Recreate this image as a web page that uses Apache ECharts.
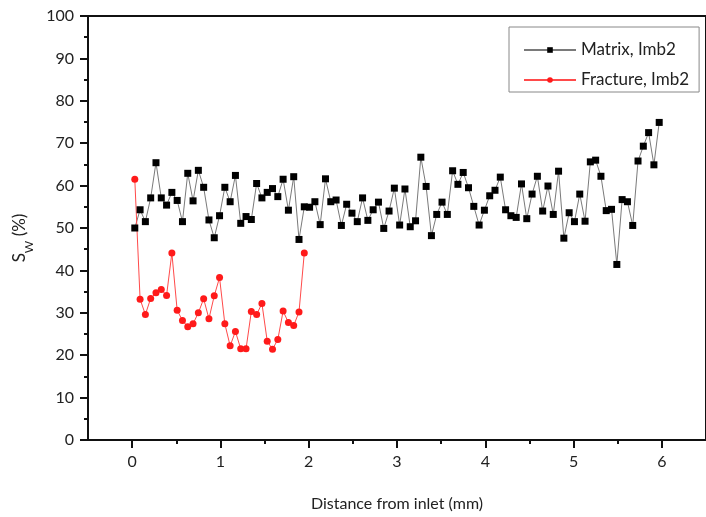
<!DOCTYPE html>
<html>
<head>
<meta charset="utf-8">
<script src="https://cdn.jsdelivr.net/npm/echarts@6/dist/echarts.min.js"></script>
<style>
html,body{margin:0;padding:0;background:#fff;}
#chart{width:706px;height:517px;}
</style>
</head>
<body>
<div id="chart"></div>
<script>
// Distance from inlet (mm)
var distance = [
  0.03,0.09,0.15,0.21,0.27,0.33,0.39,0.45,0.51,0.57,
  0.63,0.69,0.75,0.81,0.87,0.93,0.99,1.05,1.11,1.17,
  1.23,1.29,1.35,1.41,1.47,1.53,1.59,1.65,1.71,1.77,
  1.83,1.89,1.95,2.01,2.07,2.13,2.19,2.25,2.31,2.37,
  2.43,2.49,2.55,2.61,2.67,2.73,2.79,2.85,2.91,2.97,
  3.03,3.09,3.15,3.21,3.27,3.33,3.39,3.45,3.51,3.57,
  3.63,3.69,3.75,3.81,3.87,3.93,3.99,4.05,4.11,4.17,
  4.23,4.29,4.35,4.41,4.47,4.53,4.59,4.65,4.71,4.77,
  4.83,4.89,4.95,5.01,5.07,5.13,5.19,5.25,5.31,5.37,
  5.43,5.49,5.55,5.61,5.67,5.73,5.79,5.85,5.91,5.97
];
// Matrix, Imb2 Sw (%)
var matrix = [
  50, 54.3, 51.5, 57.1, 65.4, 57.1, 55.4, 58.4, 56.5, 51.5,
  62.9, 56.4, 63.6, 59.6, 51.9, 47.7, 52.9, 59.6, 56.2, 62.4,
  51.1, 52.7, 52, 60.5, 57.1, 58.4, 59.3, 57.4, 61.5, 54.2,
  62.1, 47.3, 55, 54.9, 56.2, 50.8, 61.6, 56.2, 56.6, 50.6,
  55.6, 53.5, 51.5, 57.1, 51.8, 54.3, 56.1, 49.9, 54, 59.4,
  50.7, 59.2, 50.3, 51.7, 66.7, 59.8, 48.2, 53.2, 56.1, 53.2,
  63.5, 60.3, 63.1, 59.5, 55.1, 50.7, 54.2, 57.6, 58.9, 62,
  54.3, 52.9, 52.5, 60.4, 52.2, 58, 62.2, 54, 59.9, 53.2,
  63.4, 47.6, 53.6, 51.5, 58, 51.6, 65.6, 66, 62.2, 54.1,
  54.4, 41.4, 56.7, 56.2, 50.6, 65.8, 69.3, 72.5, 64.9, 74.9
];
// Fracture, Imb2 Sw (%) (first 33 distances)
var fracture = [
  61.5, 33.2, 29.6, 33.4, 34.7, 35.5, 34.1, 44.1, 30.6, 28.2,
  26.7, 27.4, 30, 33.3, 28.6, 34, 38.3, 27.4, 22.2, 25.6,
  21.5, 21.5, 30.3, 29.6, 32.2, 23.3, 21.4, 23.7, 30.4, 27.7,
  27, 30.2, 44.1
];
var xMajorTicks = [0, 1, 2, 3, 4, 5, 6];
var xHalfTicks = [0.5, 1.5, 2.5, 3.5, 4.5, 5.5];
var seriesNames = ['Matrix, Imb2', 'Fracture, Imb2'];

var FONT = 'Lato';
var matrixData = matrix.map(function (v, i) { return [distance[i], v]; });
var fractureData = fracture.map(function (v, i) { return [distance[i], v]; });

var chart = echarts.init(document.getElementById('chart'), null, {renderer: 'canvas'});
chart.setOption({
  animation: false,
  backgroundColor: '#fff',
  textStyle: {fontFamily: FONT},
  grid: {
    left: 88, top: 16, width: 627, height: 426,
    show: true, borderColor: '#111', borderWidth: 2, backgroundColor: 'transparent'
  },
  xAxis: [{
    type: 'value', min: -0.5, max: 6.5, interval: 0.5,
    axisLine: {show: true, onZero: false, lineStyle: {color: '#111', width: 2}},
    axisTick: {show: true, inside: false, length: 8, lineStyle: {color: '#111', width: 2}, customValues: xMajorTicks},
    axisLabel: {show: true, margin: 14, fontSize: 16, color: '#222', fontFamily: FONT, customValues: xMajorTicks},
    splitLine: {show: false},
    name: 'Distance from inlet (mm)', nameLocation: 'middle', nameGap: 56,
    nameTextStyle: {fontSize: 16, color: '#222', fontFamily: FONT}
  }, {
    type: 'value', min: -0.5, max: 6.5, interval: 0.5, position: 'bottom', gridIndex: 0,
    axisLine: {show: false, onZero: false},
    axisTick: {show: true, inside: false, length: 4, lineStyle: {color: '#111', width: 2}, customValues: xHalfTicks},
    axisLabel: {show: false},
    splitLine: {show: false}
  }],
  yAxis: {
    type: 'value', min: 0, max: 100, interval: 10,
    axisLine: {show: true, onZero: false, lineStyle: {color: '#111', width: 2}},
    axisTick: {show: true, inside: false, length: 8, lineStyle: {color: '#111', width: 2}},
    minorTick: {show: true, splitNumber: 2, length: 4, lineStyle: {color: '#111', width: 2}},
    axisLabel: {margin: 14, fontSize: 16, color: '#222', fontFamily: FONT},
    splitLine: {show: false}
  },
  legend: {
    orient: 'vertical', left: 509, top: 27,
    padding: [14, 10, 3, 14], itemGap: 12,
    itemWidth: 52, itemHeight: 7,
    backgroundColor: '#fff', borderColor: '#888', borderWidth: 1,
    textStyle: {fontSize: 17, color: '#222', fontFamily: FONT, lineHeight: 18},
    data: seriesNames
  },
  graphic: [{
    type: 'text', x: 20, y: 238, rotation: Math.PI / 2,
    style: {
      text: '{a|S}{b|W}{a| (%)}',
      align: 'center', verticalAlign: 'middle',
      fill: '#222',
      rich: {
        a: {fontSize: 17, fontFamily: FONT, lineHeight: 30, verticalAlign: 'middle', fill: '#222'},
        b: {fontSize: 12, fontFamily: FONT, lineHeight: 12, verticalAlign: 'bottom', fill: '#222'}
      }
    }
  }],
  series: [{
    name: seriesNames[0], type: 'line', xAxisIndex: 0,
    data: matrixData,
    symbol: 'rect', symbolSize: 7,
    lineStyle: {color: '#7a7a7a', width: 1},
    itemStyle: {color: '#000'}
  }, {
    name: seriesNames[1], type: 'line', xAxisIndex: 0,
    data: fractureData,
    symbol: 'circle', symbolSize: 7,
    lineStyle: {color: '#ff4a4a', width: 1},
    itemStyle: {color: '#ff1a1a'}
  }]
});
</script>
</body>
</html>
